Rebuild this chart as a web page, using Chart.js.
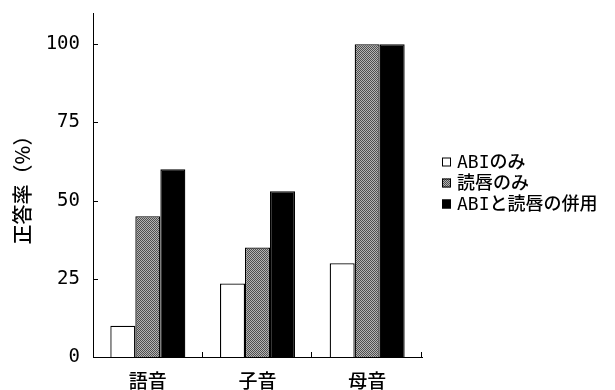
<!DOCTYPE html>
<html>
<head>
<meta charset="utf-8">
<script src="https://cdn.jsdelivr.net/npm/chart.js@4/dist/chart.umd.min.js"></script>
<style>
  html, body { margin: 0; padding: 0; background: #fff; }
  #wrap { width: 615px; height: 390px; }
</style>
</head>
<body>
<div id="wrap"><canvas id="c" width="615" height="390"></canvas></div>
<script>
// Categories and series (正答率, %)
const categories = ['語音', '子音', '母音'];
const seriesNames = ['ABIのみ', '読唇のみ', 'ABIと読唇の併用'];
const abiOnly = [10, 23.5, 30];
const lipOnly = [45, 35, 100];
const combined = [60, 53, 100];
const yTicks = [0, 25, 50, 75, 100];
const yTitle = '正答率（%）';

const JP = '"Noto Sans CJK JP", "Noto Sans", sans-serif';
const MONO_JP = '"DejaVu Sans Mono", "Noto Sans CJK JP", sans-serif';

// Fine halftone fill for the middle series
function halftone() {
  const p = document.createElement('canvas');
  p.width = 4; p.height = 4;
  const g = p.getContext('2d');
  const dark = '#4e4e4e', light = '#b4b4b4';
  for (let y = 0; y < 4; y++) {
    for (let x = 0; x < 4; x++) {
      g.fillStyle = ((x + y) % 2 === 0) ? dark : light;
      g.fillRect(x, y, 1, 1);
    }
  }
  return g.createPattern(p, 'repeat');
}
const ctx = document.getElementById('c').getContext('2d');
const grayFill = halftone();

// Inward tick marks on both axes
const innerTicks = {
  id: 'innerTicks',
  afterDatasetsDraw(chart) {
    const { ctx, scales: { x, y }, chartArea } = chart;
    ctx.save();
    ctx.strokeStyle = '#000';
    ctx.lineWidth = 1;
    ctx.beginPath();
    yTicks.forEach(v => {
      const py = Math.round(y.getPixelForValue(v)) + 0.5;
      ctx.moveTo(chartArea.left, py);
      ctx.lineTo(chartArea.left + 5, py);
    });
    const n = categories.length;
    const step = (chartArea.right - chartArea.left) / n;
    for (let i = 1; i <= n; i++) {
      const px = Math.round(x.getPixelForValue(i - 1) + step / 2) - 0.5;
      ctx.moveTo(px, chartArea.bottom);
      ctx.lineTo(px, chartArea.bottom - 5);
    }
    ctx.stroke();
    ctx.restore();
  }
};

// Legend beside the plot, built from the datasets
const sideLegend = {
  id: 'sideLegend',
  afterDraw(chart) {
    const { ctx } = chart;
    const x0 = 442, y0 = 162, rowH = 21, box = 9;
    ctx.save();
    ctx.font = '500 18px ' + MONO_JP;
    ctx.textBaseline = 'middle';
    ctx.textAlign = 'left';
    chart.data.datasets.forEach((ds, i) => {
      const cy = y0 + i * rowH;
      ctx.fillStyle = ds.backgroundColor;
      ctx.fillRect(x0, cy - box / 2, box, box);
      ctx.strokeStyle = '#000';
      ctx.lineWidth = 1;
      ctx.strokeRect(x0 + 0.5, cy - box / 2 + 0.5, box - 1, box - 1);
      ctx.fillStyle = '#000';
      ctx.fillText(ds.label, x0 + 15, cy + 1);
    });
    ctx.restore();
  }
};

new Chart(ctx, {
  type: 'bar',
  data: {
    labels: categories,
    datasets: [
      { label: seriesNames[0], data: abiOnly, backgroundColor: '#ffffff' },
      { label: seriesNames[1], data: lipOnly, backgroundColor: grayFill },
      { label: seriesNames[2], data: combined, backgroundColor: '#000000' }
    ]
  },
  options: {
    responsive: false,
    animation: false,
    events: [],
    layout: { padding: { top: 13, right: 193, left: 0, bottom: 0 } },
    datasets: {
      bar: {
        borderColor: '#000',
        borderWidth: 1.3,
        borderSkipped: 'bottom',
        categoryPercentage: 0.684,
        barPercentage: 1.0
      }
    },
    plugins: {
      legend: { display: false },
      tooltip: { enabled: false },
      title: { display: false }
    },
    scales: {
      x: {
        grid: { display: false, drawTicks: false },
        border: { display: true, color: '#000', width: 1 },
        ticks: {
          color: '#000',
          padding: 12,
          font: { family: JP, size: 19, weight: '500' }
        },
        afterFit(scale) {
          scale.height = 33;
          scale.paddingLeft = 0;
          scale.paddingRight = 0;
        }
      },
      y: {
        min: 0,
        max: 110,
        grid: { display: false, drawTicks: false },
        border: { display: true, color: '#000', width: 1 },
        afterBuildTicks(scale) { scale.ticks = yTicks.map(v => ({ value: v })); },
        ticks: {
          color: '#000',
          padding: 13,
          font: { family: MONO_JP, size: 19 }
        },
        title: {
          display: true,
          text: yTitle,
          color: '#000',
          padding: { top: 10, bottom: 0 },
          font: { family: JP, size: 20, weight: '500' }
        },
        afterFit(scale) {
          scale.width = 93;
          scale.paddingTop = 0;
          scale.paddingBottom = 0;
        }
      }
    }
  },
  plugins: [innerTicks, sideLegend]
});
</script>
</body>
</html>
